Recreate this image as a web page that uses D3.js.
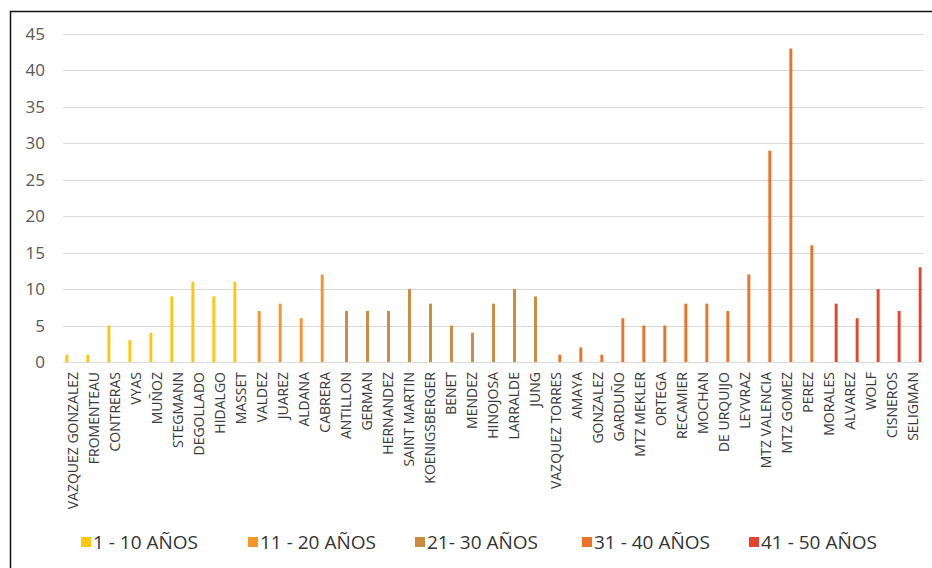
<!DOCTYPE html>
<html>
<head>
<meta charset="utf-8">
<script src="https://cdn.jsdelivr.net/npm/d3@7/dist/d3.min.js"></script>
<style>
  html, body { margin: 0; padding: 0; background: #fff; overflow: hidden; }
  svg { display: block; }
</style>
</head>
<body>
<svg id="chart" width="932" height="568"></svg>
<script>
// Age ranges (one series each) and their colours
const groups = ["1 - 10 AÑOS", "11 - 20 AÑOS", "21- 30 AÑOS", "31 - 40 AÑOS", "41 - 50 AÑOS"];
const groupColors = ["#FFC60B", "#F7942A", "#CD8B3E", "#EC7325", "#E4462B"];

// Names along the x axis
const names = [
  "VAZQUEZ GONZALEZ", "FROMENTEAU", "CONTRERAS", "VYAS", "MUÑOZ", "STEGMANN", "DEGOLLADO",
  "HIDALGO", "MASSET", "VALDEZ", "JUAREZ", "ALDANA", "CABRERA", "ANTILLON", "GERMAN",
  "HERNANDEZ", "SAINT MARTIN", "KOENIGSBERGER", "BENET", "MENDEZ", "HINOJOSA", "LARRALDE",
  "JUNG", "VAZQUEZ TORRES", "AMAYA", "GONZALEZ", "GARDUÑO", "MTZ MEKLER", "ORTEGA",
  "RECAMIER", "MOCHAN", "DE URQUIJO", "LEYVRAZ", "MTZ VALENCIA", "MTZ GOMEZ", "PEREZ",
  "MORALES", "ALVAREZ", "WOLF", "CISNEROS", "SELIGMAN"
];

// Value for each name
const values = [
  1, 1, 5, 3, 4, 9, 11, 9, 11,
  7, 8, 6, 12,
  7, 7, 7, 10, 8, 5, 4, 8, 10, 9,
  1, 2, 1, 6, 5, 5, 8, 8, 7, 12, 29, 43, 16,
  8, 6, 10, 7, 13
];

// Age range index for each name
const groupOf = [
  0, 0, 0, 0, 0, 0, 0, 0, 0,
  1, 1, 1, 1,
  2, 2, 2, 2, 2, 2, 2, 2, 2, 2,
  3, 3, 3, 3, 3, 3, 3, 3, 3, 3, 3, 3, 3,
  4, 4, 4, 4, 4
];

const yTicks = [0, 5, 10, 15, 20, 25, 30, 35, 40, 45];

const rows = names.map((n, i) => ({ name: n, value: values[i], group: groupOf[i] }));

const svg = d3.select("#chart");

// Outer frame (top and left edges visible)
svg.append("rect")
  .attr("x", 10.5).attr("y", 11.5)
  .attr("width", 1000).attr("height", 700)
  .attr("fill", "none").attr("stroke", "#111").attr("stroke-width", 1.5);

const plot = { left: 63, right: 924, top: 34, bottom: 362 };

const x0 = d3.scaleBand().domain(names).range([plot.left, plot.right]).padding(0);
const x1 = d3.scaleBand().domain(d3.range(groups.length))
  .range([2, x0.bandwidth() - 2]).padding(0.12);
const y = d3.scaleLinear().domain([0, 45]).range([plot.bottom, plot.top]);
const color = d3.scaleOrdinal().domain(d3.range(groups.length)).range(groupColors);

// Horizontal gridlines
svg.append("g")
  .selectAll("line")
  .data(yTicks)
  .join("line")
  .attr("x1", plot.left).attr("x2", plot.right)
  .attr("y1", d => Math.round(y(d)) + 0.5).attr("y2", d => Math.round(y(d)) + 0.5)
  .attr("stroke", "#d9d9d9").attr("stroke-width", 1.2);

// Y axis labels
const yAxis = d3.axisLeft(y).tickValues(yTicks).tickSize(0).tickPadding(0);
const gy = svg.append("g").attr("transform", `translate(${plot.left - 18},0)`).call(yAxis);
gy.select(".domain").remove();
gy.selectAll("text")
  .attr("fill", "#595959")
  .style("font-family", "'Open Sans', 'Noto Sans', sans-serif")
  .style("font-size", "17px");

// Bars
svg.append("g")
  .selectAll("rect")
  .data(rows)
  .join("rect")
  .attr("x", d => x0(d.name) + x1(d.group))
  .attr("width", x1.bandwidth())
  .attr("y", d => y(d.value))
  .attr("height", d => y(0) - y(d.value))
  .attr("fill", d => color(d.group));

// X axis labels, rotated
const xAxis = d3.axisBottom(x0).tickSize(0).tickPadding(0);
const gx = svg.append("g").attr("transform", `translate(0,${plot.bottom})`).call(xAxis);
gx.select(".domain").remove();
gx.selectAll("text")
  .attr("fill", "#3a3a3a")
  .style("font-family", "'Open Sans', 'Noto Sans', sans-serif")
  .style("font-size", "14px")
  .attr("text-anchor", "end")
  .attr("dy", "0.35em")
  .attr("transform", "translate(0,10) rotate(-90)")
  .attr("x", 0).attr("y", 0);

// Legend, evenly spaced entries
const legendStep = 167;
const legend = svg.append("g").attr("transform", "translate(81,542)");
groups.forEach((g, i) => {
  const item = legend.append("g").attr("transform", `translate(${i * legendStep},0)`);
  item.append("rect")
    .attr("x", 0).attr("y", -5).attr("width", 10).attr("height", 10)
    .attr("fill", groupColors[i]);
  item.append("text")
    .attr("x", 12).attr("y", 0).attr("dy", "0.36em")
    .attr("fill", "#333")
    .style("font-family", "'Open Sans', 'Noto Sans', sans-serif")
    .style("font-size", "19px")
    .text(g);
});
</script>
</body>
</html>
